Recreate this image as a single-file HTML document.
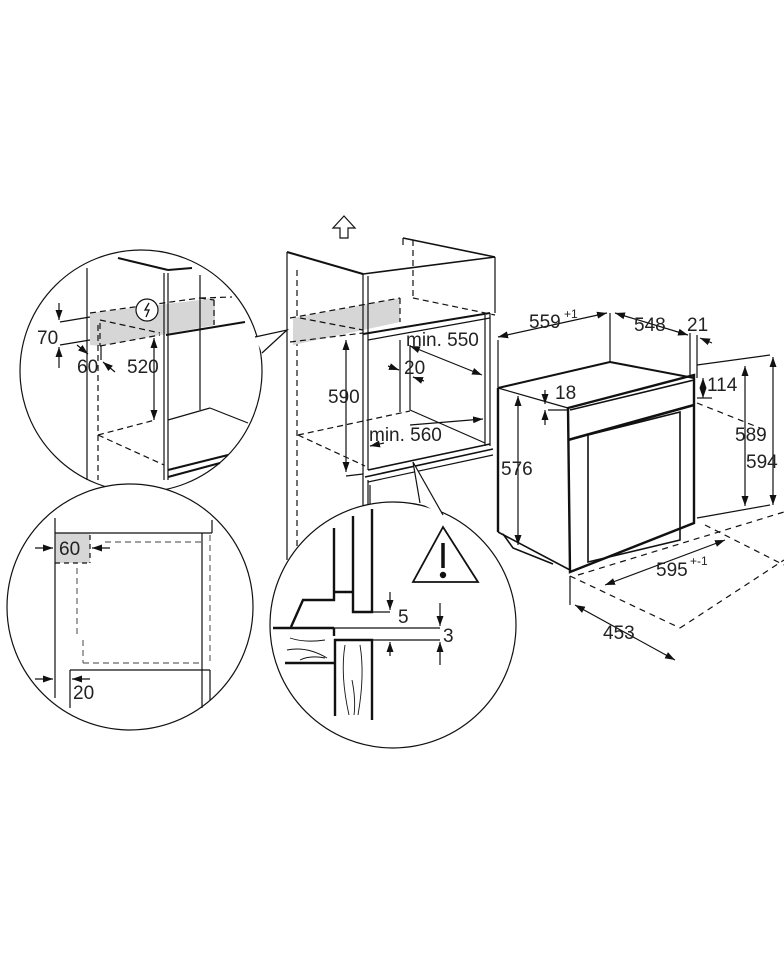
<!DOCTYPE html>
<html><head><meta charset="utf-8"><style>
html,body{margin:0;padding:0;background:#fff}
svg{display:block}
text{font-family:"Liberation Sans",Arial,sans-serif;font-size:19px;fill:#222}
</style></head><body>
<svg width="784" height="968" viewBox="0 0 784 968" xmlns="http://www.w3.org/2000/svg">
<defs>
<marker id="a" viewBox="0 0 10 10" refX="10" refY="5" markerWidth="10" markerHeight="10" orient="auto-start-reverse" markerUnits="userSpaceOnUse"><path d="M0,1.5 L10,5 L0,8.5z" fill="#111"/></marker>
</defs>
<g fill="none" stroke="#111" stroke-width="1.2">

<!-- ===== Top-left circle ===== -->
<circle cx="141" cy="371" r="121" fill="#fff"/>
<polygon points="90,313 200,300 215,297 215,325 100,346 90,345" fill="#d6d6d6" stroke="none"/>
<line x1="87" y1="268" x2="87" y2="480"/>
<line x1="98" y1="325" x2="98" y2="480" stroke-dasharray="6,4"/>
<line x1="118" y1="258" x2="168" y2="270" stroke-width="2"/>
<line x1="168" y1="270" x2="192" y2="268" stroke-width="2"/>
<line x1="164" y1="273" x2="164" y2="480"/>
<line x1="168" y1="273" x2="168" y2="480"/>
<line x1="200" y1="275" x2="200" y2="410"/>
<line x1="90" y1="313" x2="200" y2="298" stroke-dasharray="6,4"/>
<line x1="200" y1="298" x2="232" y2="297" stroke-dasharray="6,4"/>
<line x1="200" y1="298" x2="214" y2="300" stroke-dasharray="6,4"/>
<line x1="214" y1="300" x2="214" y2="325" stroke-dasharray="6,4"/>
<line x1="100" y1="323" x2="100" y2="346" stroke-dasharray="6,4"/>
<line x1="100" y1="346" x2="160" y2="335" stroke-dasharray="6,4"/>
<line x1="100" y1="320" x2="160" y2="333" stroke-dasharray="6,4"/>
<line x1="166" y1="335" x2="245" y2="322" stroke-width="2"/>
<line x1="168" y1="420" x2="210" y2="408"/>
<line x1="210" y1="408" x2="248" y2="423"/>
<line x1="98" y1="435" x2="155" y2="420" stroke-dasharray="6,4"/>
<line x1="98" y1="435" x2="164" y2="465" stroke-dasharray="6,4"/>
<line x1="168" y1="470" x2="228" y2="455" stroke-width="2"/>
<line x1="168" y1="477" x2="220" y2="463" stroke-width="2"/>
<circle cx="147" cy="310" r="11" fill="#fff"/>
<path d="M149,303 l-4,7 h4 l-3,7" stroke-width="1.3"/>
<line x1="60" y1="322" x2="90" y2="317"/>
<line x1="60" y1="345" x2="90" y2="340"/>
<line x1="59" y1="303" x2="59" y2="320" marker-end="url(#a)"/>
<line x1="59" y1="368" x2="59" y2="347" marker-end="url(#a)"/>
<line x1="77" y1="345" x2="88" y2="354" marker-end="url(#a)"/>
<line x1="115" y1="372" x2="103" y2="362" marker-end="url(#a)"/>
<line x1="101" y1="346" x2="101" y2="360"/>
<line x1="154" y1="338" x2="154" y2="420" marker-start="url(#a)" marker-end="url(#a)"/>
<path d="M255,337 L287,330 L262,353" fill="#fff"/>

<!-- ===== Cabinet (center) ===== -->
<path d="M340,238 h8 v-10 h7 l-11,-12 l-11,12 h7 z" />
<line x1="287" y1="252" x2="287" y2="560"/>
<line x1="297" y1="270" x2="297" y2="560" stroke-dasharray="6,4"/>
<line x1="287" y1="252" x2="363" y2="274" stroke-width="2"/>
<line x1="363" y1="274" x2="495" y2="257" stroke-width="1.6"/>
<line x1="403" y1="238" x2="495" y2="257" stroke-width="1.6"/>
<line x1="403" y1="238" x2="403" y2="245"/>
<line x1="413" y1="240" x2="413" y2="297" stroke-dasharray="6,4"/>
<line x1="413" y1="298" x2="495" y2="315" stroke-dasharray="6,4"/>
<line x1="495" y1="257" x2="495" y2="313"/>
<polygon points="293,318 400,298 400,322 293,345" fill="#d6d6d6" stroke="none"/>
<line x1="290" y1="318" x2="400" y2="298" stroke-dasharray="6,4"/>
<line x1="300" y1="318" x2="363" y2="330" stroke-dasharray="6,4"/>
<line x1="400" y1="298" x2="400" y2="322" stroke-dasharray="6,4"/>
<line x1="290" y1="342" x2="363" y2="333" stroke-dasharray="6,4"/>
<line x1="363" y1="274" x2="363" y2="560"/>
<line x1="368" y1="276" x2="368" y2="470"/>
<line x1="368" y1="480" x2="368" y2="560"/>
<line x1="363" y1="334" x2="490" y2="313" stroke-width="2"/>
<line x1="368" y1="340" x2="490" y2="318"/>
<line x1="485" y1="315" x2="485" y2="446"/>
<line x1="490" y1="313" x2="490" y2="446"/>
<line x1="400" y1="340" x2="400" y2="412"/>
<line x1="410" y1="345" x2="410" y2="410"/>
<line x1="410" y1="410" x2="485" y2="443"/>
<line x1="368" y1="470" x2="490" y2="444" stroke-width="1.6"/>
<line x1="365" y1="477" x2="493" y2="449" stroke-width="1.6"/>
<line x1="368" y1="482" x2="493" y2="455"/>
<line x1="370" y1="485" x2="370" y2="560"/>
<line x1="298" y1="435" x2="410" y2="411" stroke-dasharray="6,4"/>
<line x1="298" y1="435" x2="365" y2="466" stroke-dasharray="6,4"/>
<line x1="346" y1="340" x2="346" y2="472" marker-start="url(#a)" marker-end="url(#a)"/>
<line x1="346" y1="476" x2="363" y2="474"/>
<line x1="410" y1="346" x2="482" y2="375" marker-start="url(#a)" marker-end="url(#a)"/>
<line x1="388" y1="366" x2="399" y2="370" marker-end="url(#a)"/>
<line x1="424" y1="381" x2="413" y2="377" marker-end="url(#a)"/>
<line x1="410" y1="425" x2="483" y2="419" marker-end="url(#a)"/>
<line x1="384" y1="443" x2="370" y2="446" marker-end="url(#a)"/>

<!-- ===== Oven (right) ===== -->
<line x1="498" y1="388" x2="498" y2="532" stroke-width="2.4"/>
<line x1="498" y1="388" x2="610" y2="362" stroke-width="2"/>
<line x1="610" y1="362" x2="694" y2="378" stroke-width="2"/>
<line x1="498" y1="388" x2="568" y2="408"/>
<polygon points="568,408 694,375 694,523 570,572" stroke-width="2.4"/>
<line x1="570" y1="410" x2="694" y2="380" stroke-width="1.6"/>
<line x1="568" y1="440" x2="694" y2="405" stroke-width="2.6"/>
<polygon points="588,435 680,412 680,540 588,562" stroke-width="1.6"/>
<line x1="498" y1="532" x2="570" y2="570" stroke-width="1.6"/>
<path d="M503,534 l10,14 l40,16" stroke-width="1.6"/>
<line x1="498" y1="388" x2="498" y2="340"/>
<line x1="610" y1="362" x2="610" y2="313"/>
<line x1="690" y1="375" x2="690" y2="333"/>
<line x1="697" y1="378" x2="697" y2="335"/>
<line x1="498" y1="337" x2="607" y2="313" marker-start="url(#a)" marker-end="url(#a)"/>
<line x1="615" y1="313" x2="688" y2="335" marker-start="url(#a)" marker-end="url(#a)"/>
<line x1="712" y1="343" x2="700" y2="338" marker-end="url(#a)"/>
<line x1="545" y1="390" x2="545" y2="404" marker-end="url(#a)"/>
<line x1="545" y1="425" x2="545" y2="410" marker-end="url(#a)"/>
<line x1="548" y1="410" x2="568" y2="410"/>
<line x1="518" y1="396" x2="518" y2="545" marker-start="url(#a)" marker-end="url(#a)"/>
<line x1="703" y1="378" x2="703" y2="398" marker-start="url(#a)" marker-end="url(#a)"/>
<line x1="697" y1="398" x2="712" y2="398"/>
<line x1="697" y1="365" x2="770" y2="355"/>
<line x1="697" y1="518" x2="770" y2="505"/>
<line x1="745" y1="366" x2="745" y2="506" marker-start="url(#a)" marker-end="url(#a)"/>
<line x1="773" y1="357" x2="773" y2="505" marker-start="url(#a)" marker-end="url(#a)"/>
<line x1="697" y1="403" x2="760" y2="428" stroke-dasharray="6,5"/>
<line x1="578" y1="575" x2="784" y2="512" stroke-dasharray="6,5"/>
<line x1="570" y1="576" x2="680" y2="628" stroke-dasharray="6,5"/>
<line x1="680" y1="628" x2="784" y2="560" stroke-dasharray="6,5"/>
<line x1="705" y1="525" x2="784" y2="565" stroke-dasharray="6,5"/>
<line x1="570" y1="576" x2="570" y2="605"/>
<line x1="605" y1="585" x2="725" y2="540" marker-start="url(#a)" marker-end="url(#a)"/>
<line x1="575" y1="605" x2="675" y2="660" marker-start="url(#a)" marker-end="url(#a)"/>

<!-- ===== Bottom-left circle ===== -->
<circle cx="130" cy="607" r="123" fill="#fff"/>
<rect x="55" y="533" width="35" height="30" fill="#d6d6d6" stroke="none"/>
<line x1="55" y1="518" x2="55" y2="698"/>
<line x1="55" y1="533" x2="212" y2="533"/>
<line x1="212" y1="520" x2="212" y2="533"/>
<line x1="202" y1="533" x2="202" y2="708"/>
<line x1="90" y1="535" x2="90" y2="563" stroke-dasharray="5,4"/>
<line x1="55" y1="563" x2="90" y2="563" stroke-dasharray="5,4"/>
<line x1="105" y1="542" x2="202" y2="542" stroke-dasharray="6,4" stroke="#666"/>
<line x1="77" y1="568" x2="77" y2="635" stroke-dasharray="6,4" stroke="#666"/>
<line x1="83" y1="640" x2="83" y2="663" stroke-dasharray="6,4" stroke="#666"/>
<line x1="83" y1="663" x2="202" y2="663" stroke-dasharray="6,4" stroke="#666"/>
<line x1="210" y1="535" x2="210" y2="665" stroke-dasharray="6,4" stroke="#666"/>
<line x1="70" y1="670" x2="210" y2="670"/>
<line x1="70" y1="670" x2="70" y2="708"/>
<line x1="210" y1="670" x2="210" y2="700"/>
<line x1="35" y1="548" x2="53" y2="548" marker-end="url(#a)"/>
<line x1="110" y1="548" x2="92" y2="548" marker-end="url(#a)"/>
<line x1="35" y1="679" x2="53" y2="679" marker-end="url(#a)"/>
<line x1="90" y1="679" x2="72" y2="679" marker-end="url(#a)"/>

<!-- ===== Bottom-center circle ===== -->
<circle cx="393" cy="625" r="123" fill="#fff"/>
<path d="M420,503 L413,462 L443,515" fill="#fff"/>
<path d="M334,528 V600 H303 L291,627" stroke-width="2.4"/>
<line x1="334" y1="592" x2="353" y2="592" stroke-width="2.4"/>
<path d="M353,516 V612 H372 V509" stroke-width="2.4"/>
<line x1="273" y1="628" x2="334" y2="628" stroke-width="2.4"/>
<line x1="334" y1="628" x2="334" y2="636" stroke-width="2.4"/>
<path d="M335,716 V640 H372 V720" stroke-width="2.4"/>
<line x1="285" y1="663" x2="334" y2="663" stroke-width="2.4"/>
<line x1="334" y1="628" x2="440" y2="628"/>
<line x1="372" y1="640" x2="440" y2="640"/>
<line x1="372" y1="612" x2="390" y2="612"/>
<line x1="390" y1="592" x2="390" y2="610" marker-end="url(#a)"/>
<line x1="390" y1="656" x2="390" y2="642" marker-end="url(#a)"/>
<line x1="440" y1="603" x2="440" y2="626" marker-end="url(#a)"/>
<line x1="440" y1="665" x2="440" y2="642" marker-end="url(#a)"/>
<path d="M290,638 q15,5 35,2 M287,650 q20,-4 40,8 M300,660 q10,-5 25,-2 M345,645 q-5,30 4,70 M360,645 q5,30 -2,70 M352,680 q4,20 2,35" stroke-width="0.9"/>
<polygon points="443,527 413,582 478,582" stroke-width="1.8"/>
<line x1="443" y1="543" x2="443" y2="568" stroke-width="3.5"/>
<circle cx="443" cy="575" r="2.6" fill="#111"/>
</g>

<g>
<text x="37" y="344">70</text>
<text x="77" y="373">60</text>
<text x="127" y="373">520</text>
<text x="59" y="555">60</text>
<text x="73" y="699">20</text>
<text x="328" y="403">590</text>
<text x="406" y="346">min. 550</text>
<text x="404" y="374">20</text>
<text x="369" y="441">min. 560</text>
<text x="529" y="328">559</text><text x="564" y="318" style="font-size:12px">+1</text>
<text x="634" y="331">548</text>
<text x="687" y="331">21</text>
<text x="555" y="399">18</text>
<text x="707" y="391">114</text>
<text x="501" y="475">576</text>
<text x="735" y="441">589</text>
<text x="746" y="468">594</text>
<text x="656" y="576">595</text><text x="690" y="565" style="font-size:12px">+-1</text>
<text x="603" y="639">453</text>
<text x="398" y="623">5</text>
<text x="443" y="642">3</text>
</g>
</svg>
</body></html>
